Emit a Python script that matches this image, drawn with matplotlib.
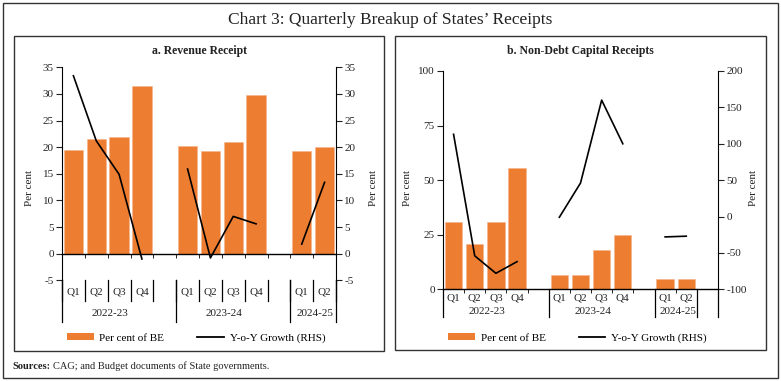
import matplotlib
matplotlib.use("Agg")
import matplotlib.pyplot as plt
import matplotlib.transforms as mtransforms
from matplotlib.patches import Rectangle, Patch
from matplotlib.lines import Line2D
import numpy as np

plt.rcParams["font.family"] = ["Liberation Serif", "DejaVu Serif"]
plt.rcParams["font.size"] = 8

# ---- data ----
quarters = ["Q1", "Q2", "Q3", "Q4", "Q1", "Q2", "Q3", "Q4", "Q1", "Q2"]
years = ["2022-23", "2023-24", "2024-25"]
year_sizes = [4, 4, 2]

rev_pct_be = [19.5, 21.5, 22.0, 31.5, 20.3, 19.2, 21.0, 29.8, 19.2, 20.1]
rev_growth = [33.4, 21.2, 14.9, -1.0, 15.9, -0.8, 7.0, 5.6, 1.8, 13.4]

cap_pct_be = [31.0, 20.6, 30.8, 55.5, 6.6, 6.6, 17.9, 24.7, 4.8, 4.8]
cap_growth = [113, -54, -78, -62, -1, 46, 160, 100, -28, -27]

BAR = "#ED7D31"
INK = "#222222"
W, H = 781, 381

fig = plt.figure(figsize=(W / 100, H / 100), dpi=100)


def fy(py):
    """pixel row (from top) -> figure fraction"""
    return 1 - py / H


def slot_positions(sizes):
    pos, start = [], 0
    for n in sizes:
        pos.extend(range(start, start + n))
        start += n + 1
    return np.array(pos)


def gapped(pos, vals, sizes):
    xs, ys, k = [], [], 0
    for n in sizes:
        xs.extend(pos[k:k + n]); ys.extend(vals[k:k + n])
        xs.append(np.nan); ys.append(np.nan)
        k += n
    return np.array(xs, float), np.array(ys, float)


def draw_panel(rect, title, title_y, bars, growth, ylim, yticks, y2lim, y2ticks,
               nslots, barw, q_y, yr_y, sep_top, q_sep_bot, grp_bot, q_seps,
               ylab_x, ylab2_x, ylab_y):
    ax = fig.add_axes(rect)
    pos = slot_positions(year_sizes)
    ax.bar(pos, bars, width=barw, color=BAR, edgecolor="#f4b48a", linewidth=0.4, zorder=2)
    ax.set_xlim(-0.5, nslots - 0.5)
    ax.set_ylim(*ylim)
    ax.set_yticks(yticks)
    ax.set_yticklabels([f"{t:g}" for t in yticks])
    for s in ["top", "right"]:
        ax.spines[s].set_visible(False)
    ax.spines["bottom"].set_position(("data", 0))
    ax.spines["bottom"].set_linewidth(1.0)
    ax.spines["left"].set_linewidth(0.8)
    bounds = np.arange(-0.5, nslots, 1.0)
    ax.set_xticks(bounds)
    ax.set_xticklabels([])
    ax.tick_params(axis="x", direction="out", length=3, width=0.6)
    ax.tick_params(axis="y", direction="out", length=4, width=0.8, colors=INK, pad=2)

    ax2 = ax.twinx()
    xs, ys = gapped(pos, growth, year_sizes)
    ax2.plot(xs, ys, color="black", linewidth=1.2)
    ax2.set_ylim(*y2lim)
    ax2.set_yticks(y2ticks)
    ax2.set_yticklabels([f"{t:g}" for t in y2ticks])
    for s in ["top", "left", "bottom"]:
        ax2.spines[s].set_visible(False)
    ax2.spines["right"].set_linewidth(0.8)
    ax2.tick_params(axis="y", direction="out", length=4, width=0.8, colors=INK, pad=2)

    tr = mtransforms.blended_transform_factory(ax.transData, fig.transFigure)
    # quarter labels
    for x, q in zip(pos, quarters):
        fig.text(x, fy(q_y), q, transform=tr, ha="center", va="center", color=INK)
    # year labels
    k = 0
    starts = []
    for yr, n in zip(years, year_sizes):
        p = pos[k:k + n]
        fig.text(p.mean() + 0.1, fy(yr_y), yr, transform=tr, ha="center", va="center", color=INK)
        starts.append(p[0] - 0.5)
        k += n
    # separators
    for b in q_seps:
        fig.add_artist(Line2D([b, b], [fy(sep_top), fy(q_sep_bot)], transform=tr,
                              color="black", linewidth=0.9))
    grp = starts + [pos[-1] + 0.5, nslots - 0.5]
    for b in sorted(set(grp)):
        fig.add_artist(Line2D([b, b], [fy(sep_top), fy(grp_bot)], transform=tr,
                              color="black", linewidth=0.9))

    # titles and axis labels
    xc = rect[0] + rect[2] / 2
    fig.text(xc, fy(title_y), title, ha="center", va="center", fontweight="bold",
             fontsize=8.5, color=INK)
    fig.text(ylab_x / W, fy(ylab_y), "Per cent", rotation=90, ha="center", va="center", color=INK)
    fig.text(ylab2_x / W, fy(ylab_y), "Per cent", rotation=90, ha="center", va="center", color=INK)

    handles = [Patch(facecolor=BAR, edgecolor="none"),
               Line2D([0], [0], color="black", linewidth=1.3)]
    fig.legend(handles, ["Per cent of BE", "Y-o-Y Growth (RHS)"], loc="center",
               bbox_to_anchor=(xc - 3 / W, fy(338)), ncol=2, frameon=False,
               handlelength=2.4, handleheight=0.5, columnspacing=3.0,
               handletextpad=0.5, fontsize=8)
    return ax, ax2


# panel a
draw_panel([62 / W, fy(280.3), 274 / W, 213 / H], "a. Revenue Receipt", 51,
           rev_pct_be, rev_growth, (-5, 35), list(range(-5, 40, 5)),
           (-5, 35), list(range(-5, 40, 5)),
           nslots=12, barw=0.85, q_y=292, yr_y=313, sep_top=280.3, q_sep_bot=301,
           grp_bot=322, q_seps=list(np.arange(-0.5, 12, 1.0)),
           ylab_x=29, ylab2_x=373, ylab_y=188)

# panel b
draw_panel([443 / W, fy(289.3), 275 / W, 218.3 / H], "b. Non-Debt Capital Receipts", 51,
           cap_pct_be, cap_growth, (0, 100), [0, 25, 50, 75, 100],
           (-100, 200), list(range(-100, 250, 50)),
           nslots=13, barw=0.82, q_y=298, yr_y=311, sep_top=289.3, q_sep_bot=289.3,
           grp_bot=317, q_seps=[],
           ylab_x=407, ylab2_x=754, ylab_y=188)

# frames
fig.add_artist(Rectangle((3 / W, fy(378)), 775 / W, 375 / H, transform=fig.transFigure,
                         fill=False, edgecolor="#333333", linewidth=1.0))
fig.add_artist(Rectangle((14 / W, fy(351)), 370 / W, 315 / H, transform=fig.transFigure,
                         fill=False, edgecolor="#333333", linewidth=1.0))
fig.add_artist(Rectangle((395 / W, fy(350)), 371 / W, 314 / H, transform=fig.transFigure,
                         fill=False, edgecolor="#333333", linewidth=1.0))

fig.text(0.5, fy(20), "Chart 3: Quarterly Breakup of States\u2019 Receipts", ha="center",
         va="center", fontsize=12.5, color=INK)

t = fig.text(12 / W, fy(369), "Sources:", fontweight="bold", fontsize=7.5, va="baseline", color=INK)
fig.canvas.draw()
bb = t.get_window_extent()
fig.text(bb.x1 / W + 3 / W, fy(369), "CAG; and Budget documents of State governments.",
         fontsize=7.5, va="baseline", color=INK)

fig.savefig("out.png", dpi=100)
